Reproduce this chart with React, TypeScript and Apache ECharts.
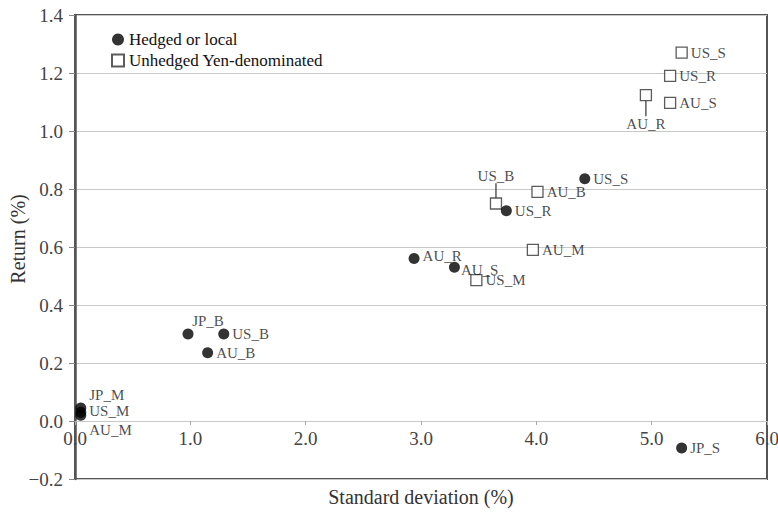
import React, { useEffect, useRef } from "react";
import * as echarts from "echarts";

const hedgedNames = ["JP_M", "US_M", "AU_M", "JP_B", "US_B", "AU_B", "AU_R", "AU_S", "US_R", "US_S", "JP_S"];
const hedgedSD = [0.05, 0.05, 0.05, 0.98, 1.29, 1.15, 2.94, 3.29, 3.74, 4.42, 5.26];
const hedgedReturn = [0.045, 0.03, 0.02, 0.3, 0.3, 0.235, 0.56, 0.53, 0.725, 0.835, -0.093];

const unhedgedNames = ["US_B", "AU_B", "AU_M", "US_M", "US_S", "US_R", "AU_S", "AU_R"];
const unhedgedSD = [3.65, 4.01, 3.97, 3.48, 5.26, 5.16, 5.16, 4.95];
const unhedgedReturn = [0.75, 0.79, 0.59, 0.486, 1.27, 1.19, 1.097, 1.124];

const seriesNames = ["Hedged or local", "Unhedged Yen-denominated"];
const xAxisTitle = "Standard deviation (%)";
const yAxisTitle = "Return (%)";

const X_MIN = 0, X_MAX = 6, X_STEP = 1;
const Y_MIN = -0.2, Y_MAX = 1.4, Y_STEP = 0.2;

// label placement styling (not data)
const hedgedLabelStyle: Record<string, any> = {
  JP_M: { offset: [0, -13] },
  US_M: { offset: [0, -1] },
  AU_M: { offset: [0, 15] },
  JP_B: { position: "top", offset: [20, 3] },
  AU_R: { offset: [0, -3] },
  AU_S: { offset: [-2, 3] },
};
const unhedgedLabelStyle: Record<string, any> = {
  US_B: { position: "top", distance: 14 },
  AU_R: { position: "bottom", distance: 15 },
};

const SERIF = "Times New Roman, Liberation Serif, serif";

export default function App() {
  const ref = useRef<HTMLDivElement>(null);
  useEffect(() => {
    if (!ref.current) return;
    const chart = echarts.init(ref.current, undefined, { renderer: "svg" });

    const hedgedData = hedgedNames.map((n, i) => {
      const item: any = { name: n, value: [hedgedSD[i], hedgedReturn[i]] };
      if (hedgedLabelStyle[n]) item.label = hedgedLabelStyle[n];
      return item;
    });
    const unhedgedData = unhedgedNames.map((n, i) => {
      const item: any = { name: n, value: [unhedgedSD[i], unhedgedReturn[i]] };
      if (unhedgedLabelStyle[n]) {
        item.label = unhedgedLabelStyle[n];
        item.labelLine = { show: true, lineStyle: { color: "#333", width: 1.2 } };
      }
      return item;
    });

    const labelBase = {
      show: true,
      position: "right",
      distance: 3,
      formatter: "{b}",
      color: "#1a1a1a",
      fontFamily: SERIF,
      fontSize: 15,
    };

    chart.setOption({
      animation: false,
      backgroundColor: "#fff",
      textStyle: { fontFamily: SERIF },
      grid: {
        left: 75,
        top: 15,
        right: 11,
        bottom: 36,
        containLabel: false,
        outerBoundsMode: "none",
        show: true,
        borderColor: "#555",
        borderWidth: 2,
        backgroundColor: "transparent",
      },
      legend: {
        orient: "vertical",
        left: 106,
        top: 26,
        itemWidth: 12,
        itemHeight: 12,
        itemGap: 4,
        textStyle: { fontFamily: SERIF, fontSize: 17, color: "#111" },
        data: seriesNames,
      },
      xAxis: {
        type: "value",
        min: X_MIN,
        max: X_MAX,
        interval: X_STEP,
        name: xAxisTitle,
        nameLocation: "middle",
        nameGap: 66,
        nameMoveOverlap: false,
        nameTextStyle: { fontFamily: SERIF, fontSize: 20, color: "#333" },
        axisLine: { show: true, onZero: false, lineStyle: { color: "#c8c8c8", width: 1 } },
        axisTick: { show: true, length: 4, lineStyle: { color: "#aaa" } },
        axisLabel: {
          fontFamily: SERIF,
          fontSize: 19,
          color: "#444",
          margin: 8,
          formatter: (v: number) => v.toFixed(1),
        },
        splitLine: { show: false },
      },
      yAxis: {
        type: "value",
        min: Y_MIN,
        max: Y_MAX,
        interval: Y_STEP,
        name: yAxisTitle,
        nameLocation: "middle",
        nameGap: 47,
        nameMoveOverlap: false,
        nameTextStyle: { fontFamily: SERIF, fontSize: 20, color: "#333", padding: [0, 0, 0, 16] },
        axisLine: { show: true, onZero: false, lineStyle: { color: "#555", width: 2.5 } },
        axisTick: { show: true, length: 6, lineStyle: { color: "#888" } },
        axisLabel: {
          fontFamily: SERIF,
          fontSize: 19,
          color: "#444",
          margin: 12,
          formatter: (v: number) => (v < 0 ? "\u2212" + Math.abs(v).toFixed(1) : v.toFixed(1)),
        },
        splitLine: { show: true, lineStyle: { color: "#c8c8c8", width: 1 } },
      },
      series: [
        {
          name: seriesNames[0],
          type: "scatter",
          symbol: "circle",
          symbolSize: 11,
          itemStyle: { color: "#000" },
          label: labelBase,
          data: hedgedData,
          z: 3,
        },
        {
          name: seriesNames[1],
          type: "scatter",
          symbol: "rect",
          symbolSize: 11,
          itemStyle: { color: "#fff", borderColor: "#333", borderWidth: 1.3 },
          label: labelBase,
          data: unhedgedData,
          z: 2,
        },
      ],
    });

    // place the x axis on the y = 0 line, using the library's own scale
    const zeroY = chart.convertToPixel({ yAxisIndex: 0 }, 0) as number;
    const bottomY = chart.convertToPixel({ yAxisIndex: 0 }, Y_MIN) as number;
    if (isFinite(zeroY) && isFinite(bottomY)) {
      chart.setOption({ xAxis: { offset: zeroY - bottomY } });
    }

    return () => chart.dispose();
  }, []);

  return (
    <div
      ref={ref}
      style={{ position: "fixed", left: 0, top: 0, width: 778, height: 515 }}
    />
  );
}
